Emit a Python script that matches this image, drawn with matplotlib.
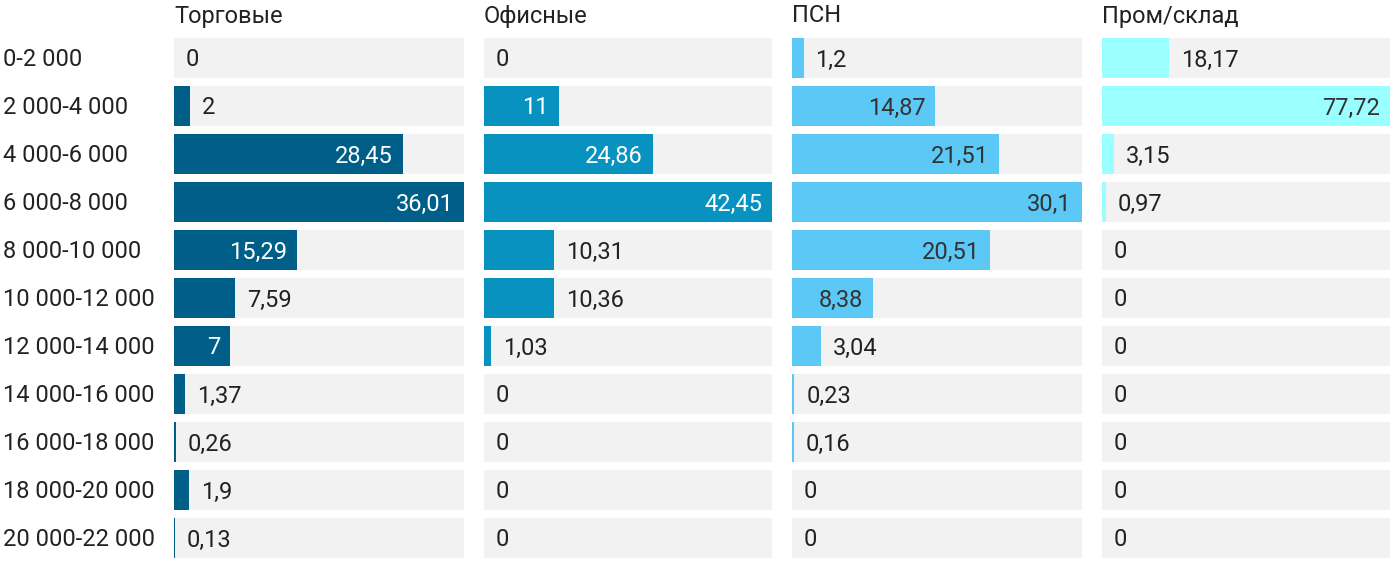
import matplotlib.pyplot as plt

plt.rcParams['font.family'] = ['Roboto', 'DejaVu Sans']

# Data
categories = ["0-2 000", "2 000-4 000", "4 000-6 000", "6 000-8 000", "8 000-10 000",
              "10 000-12 000", "12 000-14 000", "14 000-16 000", "16 000-18 000",
              "18 000-20 000", "20 000-22 000"]
titles = ["Торговые", "Офисные", "ПСН", "Пром/склад"]
torgovye = [0, 2, 28.45, 36.01, 15.29, 7.59, 7, 1.37, 0.26, 1.9, 0.13]
ofisnye = [0, 11, 24.86, 42.45, 10.31, 10.36, 1.03, 0, 0, 0, 0]
psn = [1.2, 14.87, 21.51, 30.1, 20.51, 8.38, 3.04, 0.23, 0.16, 0, 0]
prom = [18.17, 77.72, 3.15, 0.97, 0, 0, 0, 0, 0, 0, 0]
series = [torgovye, ofisnye, psn, prom]

colors = ["#005f88", "#0792c0", "#5bc8f5", "#99ffff"]
inside_text = ["white", "white", "#333333", "#333333"]

W, H = 1400, 574
fig = plt.figure(figsize=(W / 100, H / 100), dpi=100)
renderer = fig.canvas.get_renderer()

lefts = [174, 484, 792, 1102]
rights = [464, 772, 1082, 1390]
top_px, bot_px = 34, 562
n = len(categories)
pad = 10
fs = 17
dy = 2 / 48  # small downward nudge of labels, in row units

for i, vals in enumerate(series):
    ax = fig.add_axes([lefts[i] / W, 1 - bot_px / H,
                       (rights[i] - lefts[i]) / W, (bot_px - top_px) / H])
    vmax = max(vals)
    ax.set_xlim(0, vmax)
    ax.set_ylim(n - 0.5, -0.5)
    ax.axis("off")
    ys = range(n)
    ax.barh(ys, [vmax] * n, height=0.833, color="#f2f2f2", linewidth=0)
    ax.barh(ys, vals, height=0.833, color=colors[i], linewidth=0)
    px_per_unit = (rights[i] - lefts[i]) / vmax
    for y, v in zip(ys, vals):
        label = f"{v:g}".replace(".", ",")
        t = ax.text(0, y + dy, label, fontsize=fs, va="center")
        tw = t.get_window_extent(renderer).width
        bar_w = v * px_per_unit
        if bar_w >= tw + 2 * pad:
            t.set_x(v - pad / px_per_unit)
            t.set_ha("right")
            t.set_color(inside_text[i])
        else:
            t.set_x(v + (pad + 2) / px_per_unit)
            t.set_ha("left")
            t.set_color("#222222")
    fig.text(lefts[i] / W, 1 - 16 / H, titles[i], fontsize=fs, color="#222222",
             ha="left", va="center")

for j, c in enumerate(categories):
    yc = top_px + 48 * j + 26
    fig.text(3 / W, 1 - yc / H, c, fontsize=fs, color="#222222", ha="left", va="center")

fig.savefig("out.png", dpi=100)
